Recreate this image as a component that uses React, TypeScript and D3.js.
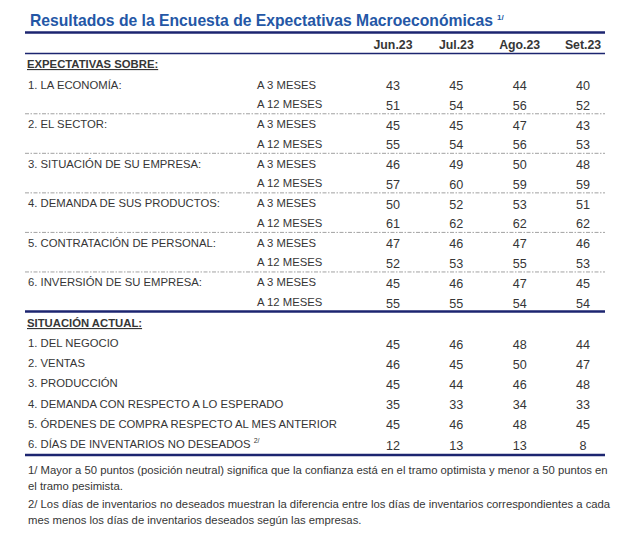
import React from "react";
import * as d3 from "d3";

const title = "Resultados de la Encuesta de Expectativas Macroeconómicas";
const months = ["Jun.23", "Jul.23", "Ago.23", "Set.23"];
const expHeader = "EXPECTATIVAS SOBRE:";
const expCategories = [
  "1. LA ECONOMÍA:",
  "2. EL SECTOR:",
  "3. SITUACIÓN DE SU EMPRESA:",
  "4. DEMANDA DE SUS PRODUCTOS:",
  "5. CONTRATACIÓN DE PERSONAL:",
  "6. INVERSIÓN DE SU EMPRESA:",
];
const horizons = ["A 3 MESES", "A 12 MESES"];
const exp3 = [
  [43, 45, 44, 40],
  [45, 45, 47, 43],
  [46, 49, 50, 48],
  [50, 52, 53, 51],
  [47, 46, 47, 46],
  [45, 46, 47, 45],
];
const exp12 = [
  [51, 54, 56, 52],
  [55, 54, 56, 53],
  [57, 60, 59, 59],
  [61, 62, 62, 62],
  [52, 53, 55, 53],
  [55, 55, 54, 54],
];
const actHeader = "SITUACIÓN ACTUAL:";
const actCategories = [
  "1. DEL NEGOCIO",
  "2. VENTAS",
  "3. PRODUCCIÓN",
  "4. DEMANDA CON RESPECTO A LO ESPERADO",
  "5. ÓRDENES DE COMPRA RESPECTO AL MES ANTERIOR",
  "6. DÍAS DE INVENTARIOS NO DESEADOS",
];
const actValues = [
  [45, 46, 48, 44],
  [46, 45, 50, 47],
  [45, 44, 46, 48],
  [35, 33, 34, 33],
  [45, 46, 48, 45],
  [12, 13, 13, 8],
];
const footnotes = [
  "1/ Mayor a 50 puntos (posición neutral) significa que la confianza está en el tramo optimista y menor a 50 puntos en",
  "el tramo pesimista.",
  "2/ Los días de inventarios no deseados muestran la diferencia entre los días de inventarios correspondientes a cada",
  "mes menos los días de inventarios deseados según las empresas.",
];

const FONT = "'Liberation Sans', Arial, sans-serif";
const NAVY = "#1c2570";
const BLUE = "#2457a6";
const TXT = "#363636";

export default function App() {
  const W = 640;
  const H = 540;
  const x0 = 25;
  const x1 = 605;
  const labelX = 28;
  const horizonX = 257;

  const colX = d3.scalePoint<string>().domain(months).range([393, 583]);

  const expRowY = d3.scaleLinear().domain([0, 11]).range([88.5, 306]);
  const actRowY = d3.scaleLinear().domain([0, 5]).range([347, 448]);

  const expRows: { label: string; horizon: string; values: number[]; idx: number }[] = [];
  expCategories.forEach((c, i) => {
    expRows.push({ label: c, horizon: horizons[0], values: exp3[i], idx: i * 2 });
    expRows.push({ label: "", horizon: horizons[1], values: exp12[i], idx: i * 2 + 1 });
  });

  const labelSize = 11.3;
  const numSize = 12.6;

  return (
    <svg
      width={W}
      height={H}
      style={{ position: "absolute", left: 0, top: 0, background: "#fff" }}
      fontFamily={FONT}
    >
      <rect x={0} y={0} width={W} height={H} fill="#fff" />
      <text x={30} y={26} fontSize={15.7} fontWeight="bold" fill={BLUE}>
        {title}
        <tspan fontSize={8} dy={-6} dx={4} fill={BLUE}>1/</tspan>
      </text>
      <line x1={x0} x2={x1} y1={32.5} y2={32.5} stroke={NAVY} strokeWidth={2.6} />

      {months.map((m) => (
        <text key={m} x={colX(m)} y={49} fontSize={12.3} fontWeight="bold" fill={TXT} textAnchor="middle">
          {m}
        </text>
      ))}
      <line x1={x0} x2={x1} y1={53.5} y2={53.5} stroke={NAVY} strokeWidth={1.6} />

      <text x={labelX - 1} y={68} fontSize={labelSize} fontWeight="bold" fill={TXT} textDecoration="underline">
        {expHeader}
      </text>
      {expRows.map((r) => {
        const y = expRowY(r.idx);
        return (
          <g key={"e" + r.idx}>
            {r.label && (
              <text x={labelX} y={y} fontSize={labelSize} fill={TXT}>
                {r.label}
              </text>
            )}
            <text x={horizonX} y={y} fontSize={labelSize} fill={TXT}>
              {r.horizon}
            </text>
            {r.values.map((v, j) => (
              <text key={j} x={colX(months[j])} y={y + 1.5} fontSize={numSize} fill={TXT} textAnchor="middle">
                {v}
              </text>
            ))}
          </g>
        );
      })}
      {expCategories.slice(0, -1).map((c, i) => {
        const y = expRowY(i * 2 + 1) + 5.5;
        return (
          <line key={"d" + i} x1={x0} x2={x1} y1={y} y2={y} stroke="#8a8a8a" strokeWidth={0.8} strokeDasharray="4 1.5 1.5 1.5" />
        );
      })}
      <line x1={x0} x2={x1} y1={311.5} y2={311.5} stroke={NAVY} strokeWidth={2.6} />

      <text x={labelX - 1} y={327} fontSize={labelSize} fontWeight="bold" fill={TXT} textDecoration="underline">
        {actHeader}
      </text>
      {actCategories.map((c, i) => {
        const y = actRowY(i);
        return (
          <g key={"a" + i}>
            <text x={labelX} y={y} fontSize={labelSize} fill={TXT}>
              {c}
              {i === actCategories.length - 1 && (
                <tspan fontSize={7} dy={-5} dx={3}>2/</tspan>
              )}
            </text>
            {actValues[i].map((v, j) => (
              <text key={j} x={colX(months[j])} y={y + 1.5} fontSize={numSize} fill={TXT} textAnchor="middle">
                {v}
              </text>
            ))}
          </g>
        );
      })}
      <line x1={x0} x2={x1} y1={455} y2={455} stroke={NAVY} strokeWidth={2.6} />

      {footnotes.map((f, i) => (
        <text key={"f" + i} x={labelX} y={[474, 490, 508, 524][i]} fontSize={11.3} fill={TXT}>
          {f}
        </text>
      ))}
    </svg>
  );
}
